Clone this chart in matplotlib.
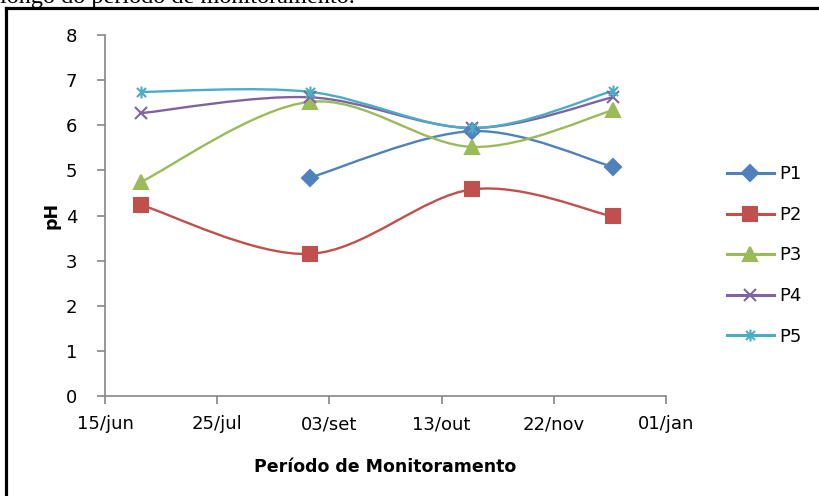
import datetime as dt
import matplotlib
matplotlib.use("Agg")
import matplotlib.pyplot as plt
import matplotlib.dates as mdates
from matplotlib.path import Path
from matplotlib.patches import PathPatch
from matplotlib.lines import Line2D

# sampling dates and pH per monitoring point
dates = [dt.date(2009, 6, 28), dt.date(2009, 8, 27), dt.date(2009, 10, 24), dt.date(2009, 12, 13)]
p1 = [None, 4.84, 5.87, 5.08]
p2 = [4.23, 3.15, 4.58, 3.98]
p3 = [4.75, 6.52, 5.52, 6.33]
p4 = [6.27, 6.62, 5.94, 6.62]
p5 = [6.74, 6.74, 5.94, 6.76]
series_names = ["P1", "P2", "P3", "P4", "P5"]

tick_dates = [dt.date(2009, 6, 15), dt.date(2009, 7, 25), dt.date(2009, 9, 3),
              dt.date(2009, 10, 13), dt.date(2009, 11, 22), dt.date(2010, 1, 1)]
tick_labels = ["15/jun", "25/jul", "03/set", "13/out", "22/nov", "01/jan"]

colors = ["#4F81BD", "#C0504D", "#9BBB59", "#8064A2", "#4BACC6"]

# asterisk marker: an x with a vertical bar
star = Path([(-1, -1), (1, 1), (-1, 1), (1, -1), (0, -1.3), (0, 1.3)],
            [Path.MOVETO, Path.LINETO, Path.MOVETO, Path.LINETO, Path.MOVETO, Path.LINETO])
markers = [("D", 8), ("s", 10), ("^", 9.5), ("x", 8), (star, 8.5)]


def smooth_path(xs, ys):
    # Catmull-Rom style bezier, like spreadsheet "smoothed line"
    pts = list(zip(xs, ys))
    verts = [pts[0]]
    codes = [Path.MOVETO]
    n = len(pts)
    for i in range(n - 1):
        p0 = pts[i - 1] if i > 0 else pts[i]
        p1_, p2_ = pts[i], pts[i + 1]
        p3_ = pts[i + 2] if i + 2 < n else pts[i + 1]
        c1 = (p1_[0] + (p2_[0] - p0[0]) / 6, p1_[1] + (p2_[1] - p0[1]) / 6)
        c2 = (p2_[0] - (p3_[0] - p1_[0]) / 6, p2_[1] - (p3_[1] - p1_[1]) / 6)
        verts += [c1, c2, p2_]
        codes += [Path.CURVE4] * 3
    return Path(verts, codes)


fig = plt.figure(figsize=(8.19, 4.96), dpi=100)
ax = fig.add_axes([0.1282, 0.2016, 0.685, 0.7278])

xnum = mdates.date2num(dates)
handles = []
for name, vals, col, (mk, ms) in zip(series_names, [p1, p2, p3, p4, p5], colors, markers):
    xs = [x for x, v in zip(xnum, vals) if v is not None]
    ys = [v for v in vals if v is not None]
    ax.add_patch(PathPatch(smooth_path(xs, ys), fill=False, edgecolor=col, lw=1.7, zorder=2))
    ax.plot(xs, ys, linestyle="none", marker=mk, markersize=ms, color=col,
            markeredgecolor=col, markeredgewidth=1.5, zorder=3)
    handles.append(Line2D([0], [0], color=col, lw=2.2, marker=mk, markersize=ms,
                          markeredgecolor=col, markeredgewidth=1.5, label=name))

ax.set_xlim(mdates.date2num(tick_dates[0]), mdates.date2num(tick_dates[-1]))
ax.set_ylim(0, 8)
ax.set_xticks(mdates.date2num(tick_dates))
ax.set_xticklabels(tick_labels)
ax.set_yticks(range(0, 9))

for s in ["top", "right"]:
    ax.spines[s].set_visible(False)
for s in ["left", "bottom"]:
    ax.spines[s].set_color("#868686")
    ax.spines[s].set_linewidth(1.2)
ax.tick_params(axis="both", colors="#868686", labelcolor="black", labelsize=13,
               length=6, width=1.2)
ax.tick_params(axis="y", pad=14)
ax.tick_params(axis="x", pad=8)

ax.set_xlabel("Período de Monitoramento", fontsize=12.5, fontweight="bold", labelpad=18)
ax.set_ylabel("pH", fontsize=12.5, fontweight="bold", labelpad=4)

fig.legend(handles=handles, loc="center left", bbox_to_anchor=(0.872, 0.485),
           frameon=False, fontsize=13, handlelength=2.6, labelspacing=1.25,
           handletextpad=0.3, borderpad=0.2)

# page frame and caption text above the chart
fig.add_artist(Line2D([0.0079, 0.0079], [0.0, 0.984], transform=fig.transFigure,
                      color="black", lw=2.3))
fig.add_artist(Line2D([0.0079, 1.0], [0.984, 0.984], transform=fig.transFigure,
                      color="black", lw=2.3))
fig.text(0.0, 0.993, "longo do período de monitoramento.", family="Liberation Serif",
         fontsize=17.5, va="baseline", ha="left")

fig.savefig("out.png", dpi=100)
